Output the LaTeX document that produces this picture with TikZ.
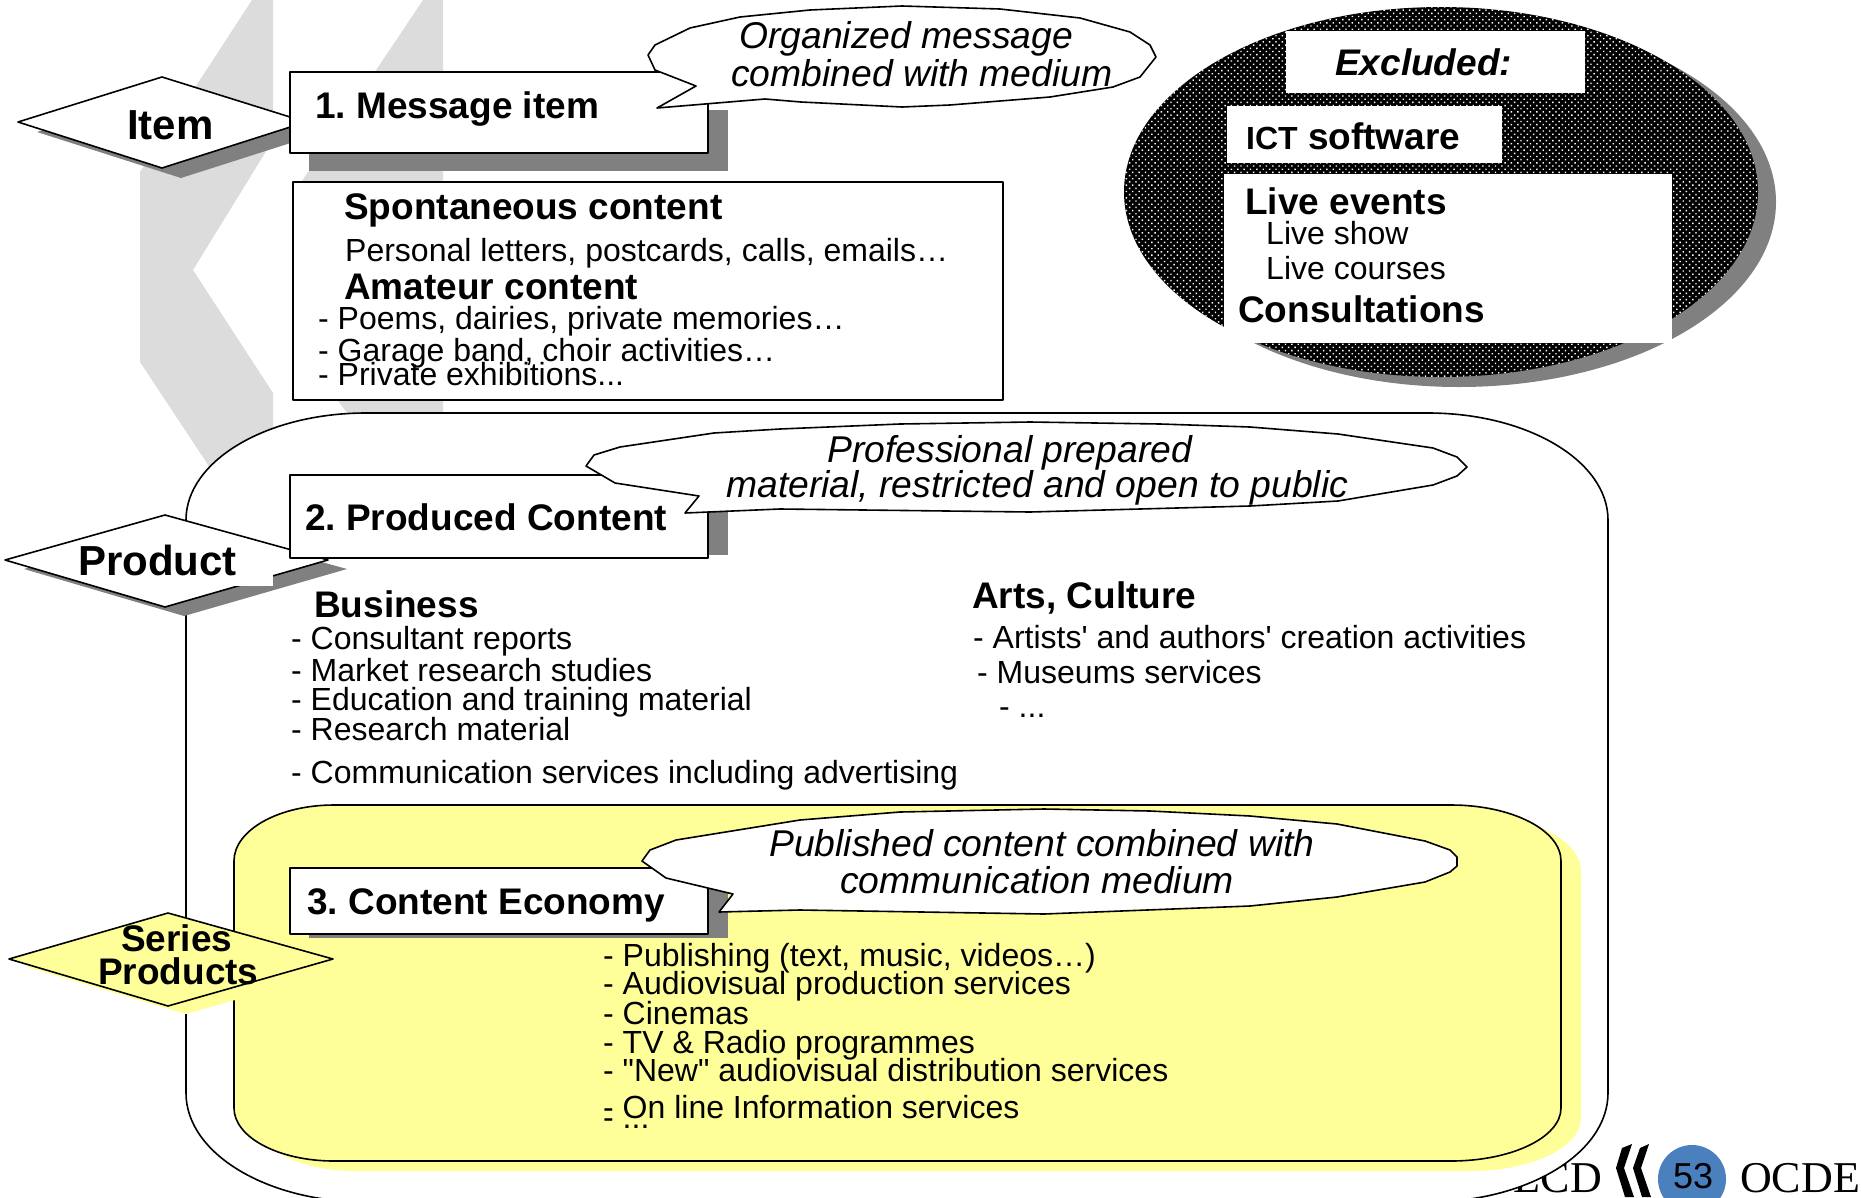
\documentclass[tikz,border=0pt]{standalone}
\usepackage{fontspec}
\setmainfont{Liberation Sans}[Ligatures=TeXOff]
\newfontfamily\oecdfont{Liberation Serif}
\usetikzlibrary{patterns.meta}
\definecolor{paleyellow}{HTML}{FFFF99}
\definecolor{shadowgray}{HTML}{808080}
\definecolor{markgray}{HTML}{DCDCDC}
\definecolor{badgeblue}{HTML}{4A80BD}
\frenchspacing

\begin{document}
\begin{tikzpicture}[x=1pt, y=-1pt,
    label/.style={inner sep=0pt, anchor=base west},
    head/.style={label, font=\fontsize{37}{37}\selectfont\bfseries},
    bighead/.style={label, font=\fontsize{42}{42}\selectfont\bfseries},
    item/.style={label, font=\fontsize{32}{33}\selectfont},
    talk/.style={label, font=\fontsize{37.3}{37}\selectfont\itshape},
    outline/.style={draw=black, line width=1.6pt, line join=round},
    textbox/.style={outline, fill=white, line width=2pt},
    plainbox/.style={fill=white}
]
    \clip (0,0) rectangle (1861,1197);

    % watermark behind everything
    \fill[markgray] (252,0) -- (273,0) -- (273,140) -- (193,270) -- (273,393) -- (273,480)
        -- (228,495) -- (140,362) -- (140,172) -- cycle;
    \fill[markgray] (423,0) -- (443,0) -- (443,430) -- (360,430) -- (296,345) -- (296,190) -- cycle;

    % footer
    \node[label, anchor=base east, font=\fontsize{44}{44}\selectfont\oecdfont] (oecd) at (1602,1192) {OECD};
    \node[label, font=\fontsize{44}{44}\selectfont\oecdfont] (ocde) at (1740,1192) {OCDE};
    \fill[black] (1632,1144) -- (1622,1148) -- (1616,1168) -- (1625,1197) -- (1634,1197) -- (1624,1168) -- cycle;
    \fill[black] (1649,1144) -- (1640,1148) -- (1633,1168) -- (1642,1197) -- (1651,1197) -- (1641,1168) -- cycle;
    \fill[badgeblue] (1692,1179) circle (34);
    \node[label, font=\fontsize{36}{36}\selectfont] (badge) at (1673,1188) {53};

    % large frames
    \draw[outline, fill=white] (186,520) arc[start angle=180, end angle=270, x radius=180, y radius=107]
        -- (1428,413) arc[start angle=270, end angle=360, x radius=180, y radius=107]
        -- (1608,1093) arc[start angle=0, end angle=90, x radius=180, y radius=109]
        -- (366,1202) arc[start angle=90, end angle=180, x radius=180, y radius=109] -- cycle;
    \fill[paleyellow] (254,871) arc[start angle=180, end angle=270, x radius=100, y radius=56]
        -- (1471,815) arc[start angle=270, end angle=360, x radius=110, y radius=56]
        -- (1581,1118) arc[start angle=0, end angle=90, x radius=110, y radius=53]
        -- (354,1171) arc[start angle=90, end angle=180, x radius=100, y radius=53] -- cycle;
    \draw[outline, fill=paleyellow] (234,861) arc[start angle=180, end angle=270, x radius=100, y radius=56]
        -- (1451,805) arc[start angle=270, end angle=360, x radius=110, y radius=56]
        -- (1561,1108) arc[start angle=0, end angle=90, x radius=110, y radius=53]
        -- (334,1161) arc[start angle=90, end angle=180, x radius=100, y radius=53] -- cycle;

    % excluded oval
    \fill[shadowgray] (1459,202) ellipse [x radius=317, y radius=185];
    \fill[black] (1441,192) ellipse [x radius=317, y radius=185];
    \fill[pattern={Dots[distance=4.5pt, angle=45, radius=1pt]}, pattern color=white] (1441,192) ellipse [x radius=317, y radius=185];
    \fill[plainbox] (1286,31) rectangle (1585,93);
    \fill[plainbox] (1227,106) rectangle (1502,163);
    \fill[plainbox] (1224,174) rectangle (1672,343);
    \node[head, font=\fontsize{37}{37}\selectfont\bfseries\itshape] (excluded) at (1335,75) {Excluded:};
    \node[head] (ict) at (1246,149) {{\fontsize{32}{32}\selectfont ICT} software};
    \node[head] (live) at (1245,214) {Live events};
    \node[item] (show) at (1266,244) {Live show};
    \node[item] (courses) at (1266,279) {Live courses};
    \node[head] (consult) at (1238,322) {Consultations};

    % item row
    \fill[shadowgray] (37,132) -- (181,87) -- (325,132) -- (181,178) -- cycle;
    \draw[outline, fill=white] (18,122) -- (162,77) -- (306,122) -- (162,168) -- cycle;
    \node[bighead] (itemlbl) at (127,139) {Item};
    \fill[shadowgray] (309,110) rectangle (728,171);
    \draw[textbox] (290,72) rectangle (708,153);
    \node[head] (message) at (315,118) {1. Message item};
    \draw[outline, fill=white] (696,86) -- (655,70) -- (648,55) -- (655,45) -- (690,28) -- (740,17)
        -- (810,10) -- (902,6) -- (1000,9) -- (1080,18) -- (1130,32) -- (1150,45) -- (1156,57)
        -- (1140,77) -- (1113,87) -- (1050,97) -- (950,105) -- (902,107) -- (801,102) -- (765,99)
        -- (657,108) -- cycle;
    \node[talk] (org) at (739,48) {Organized message};
    \node[talk] (comb) at (731,86) {combined with medium};
    \draw[textbox] (293,182) rectangle (1003,400);
    \node[head] (spont) at (344,219) {Spontaneous content};
    \node[item] (letters) at (345,261) {Personal letters, postcards, calls, emails…};
    \node[head] (amateur) at (344,299) {Amateur content};
    \node[item] (poems) at (318,329) {- Poems, dairies, private memories…};
    \node[item] (garage) at (318,361) {- Garage band, choir activities…};
    \node[item] (private) at (318,385) {- Private exhibitions...};

    % product row
    \fill[shadowgray] (24,569) -- (184,524) -- (347,569) -- (184,616) -- cycle;
    \draw[outline, fill=white] (5,560) -- (165,515) -- (328,560) -- (165,607) -- cycle;
    \fill[shadowgray] (309,493) rectangle (728,555);
    \draw[textbox] (290,475) rectangle (708,558);
    \fill[plainbox] (101,547) rectangle (273,586);
    \node[bighead] (product) at (78,575) {Product};
    \node[head] (produced) at (305,530) {2. Produced Content};
    \draw[outline, fill=white] (699,496) -- (615,483) -- (586,466) -- (594,455) -- (620,447) -- (714,433)
        -- (780,429) -- (900,424) -- (1030,422) -- (1160,424) -- (1250,427) -- (1338,434) -- (1433,448) -- (1457,457) -- (1467,467)
        -- (1457,476) -- (1433,485) -- (1338,501) -- (1250,506) -- (1030,512) -- (780,509) -- (685,513) -- cycle;
    \node[talk] (prof) at (827,462) {Professional prepared};
    \node[talk] (mater) at (726,497) {material, restricted and open to public};
    \node[head] (business) at (314,617) {Business};
    \node[item] (consrep) at (291,649) {- Consultant reports};
    \node[item] (market) at (291,681) {- Market research studies};
    \node[item] (educ) at (291,710) {- Education and training material};
    \node[item] (research) at (291,740) {- Research material};
    \node[item] (commu) at (291,783) {- Communication services including advertising};
    \node[head] (arts) at (972,608) {Arts, Culture};
    \node[item] (artists) at (973,648) {- Artists' and authors' creation activities};
    \node[item] (museums) at (977,683) {- Museums services};
    \node[item] (artsmore) at (999,717) {- ...};

    % series row
    \fill[paleyellow] (27,967) -- (186,921) -- (351,967) -- (186,1014) -- cycle;
    \draw[outline, fill=paleyellow] (9,959) -- (168,913) -- (333,959) -- (168,1006) -- cycle;
    \node[head] (series) at (121,951) {Series};
    \node[head] (products) at (98,984) {Products};
    \fill[shadowgray] (309,888) rectangle (728,938);
    \draw[textbox] (290,868) rectangle (708,934);
    \node[head] (economy) at (307,914) {3. Content Economy};
    \draw[outline, fill=white] (733,894) -- (666,878) -- (642,861) -- (650,850) -- (676,840) -- (800,820)
        -- (900,812) -- (1044,809) -- (1150,811) -- (1250,816) -- (1337,824) -- (1425,841) -- (1450,850) -- (1457,857) -- (1457,866)
        -- (1450,872) -- (1425,882) -- (1337,897) -- (1250,906) -- (1044,914) -- (800,910) -- (719,912) -- cycle;
    \node[talk] (publ) at (769,856) {Published content combined with};
    \node[talk] (medium) at (840,893) {communication medium};
    \node[item] (publishing) at (603,966) {- Publishing (text, music, videos…)};
    \node[item] (audio) at (603,994) {- Audiovisual production services};
    \node[item] (cinemas) at (603,1024) {- Cinemas};
    \node[item] (tvradio) at (603,1053) {- TV \& Radio programmes};
    \node[item] (newav) at (603,1081) {- "New" audiovisual distribution services};
    \node[item] (online) at (603,1118) {- On line Information services};
    \node[item] (more) at (603,1128) {- ...};
\end{tikzpicture}
\end{document}
